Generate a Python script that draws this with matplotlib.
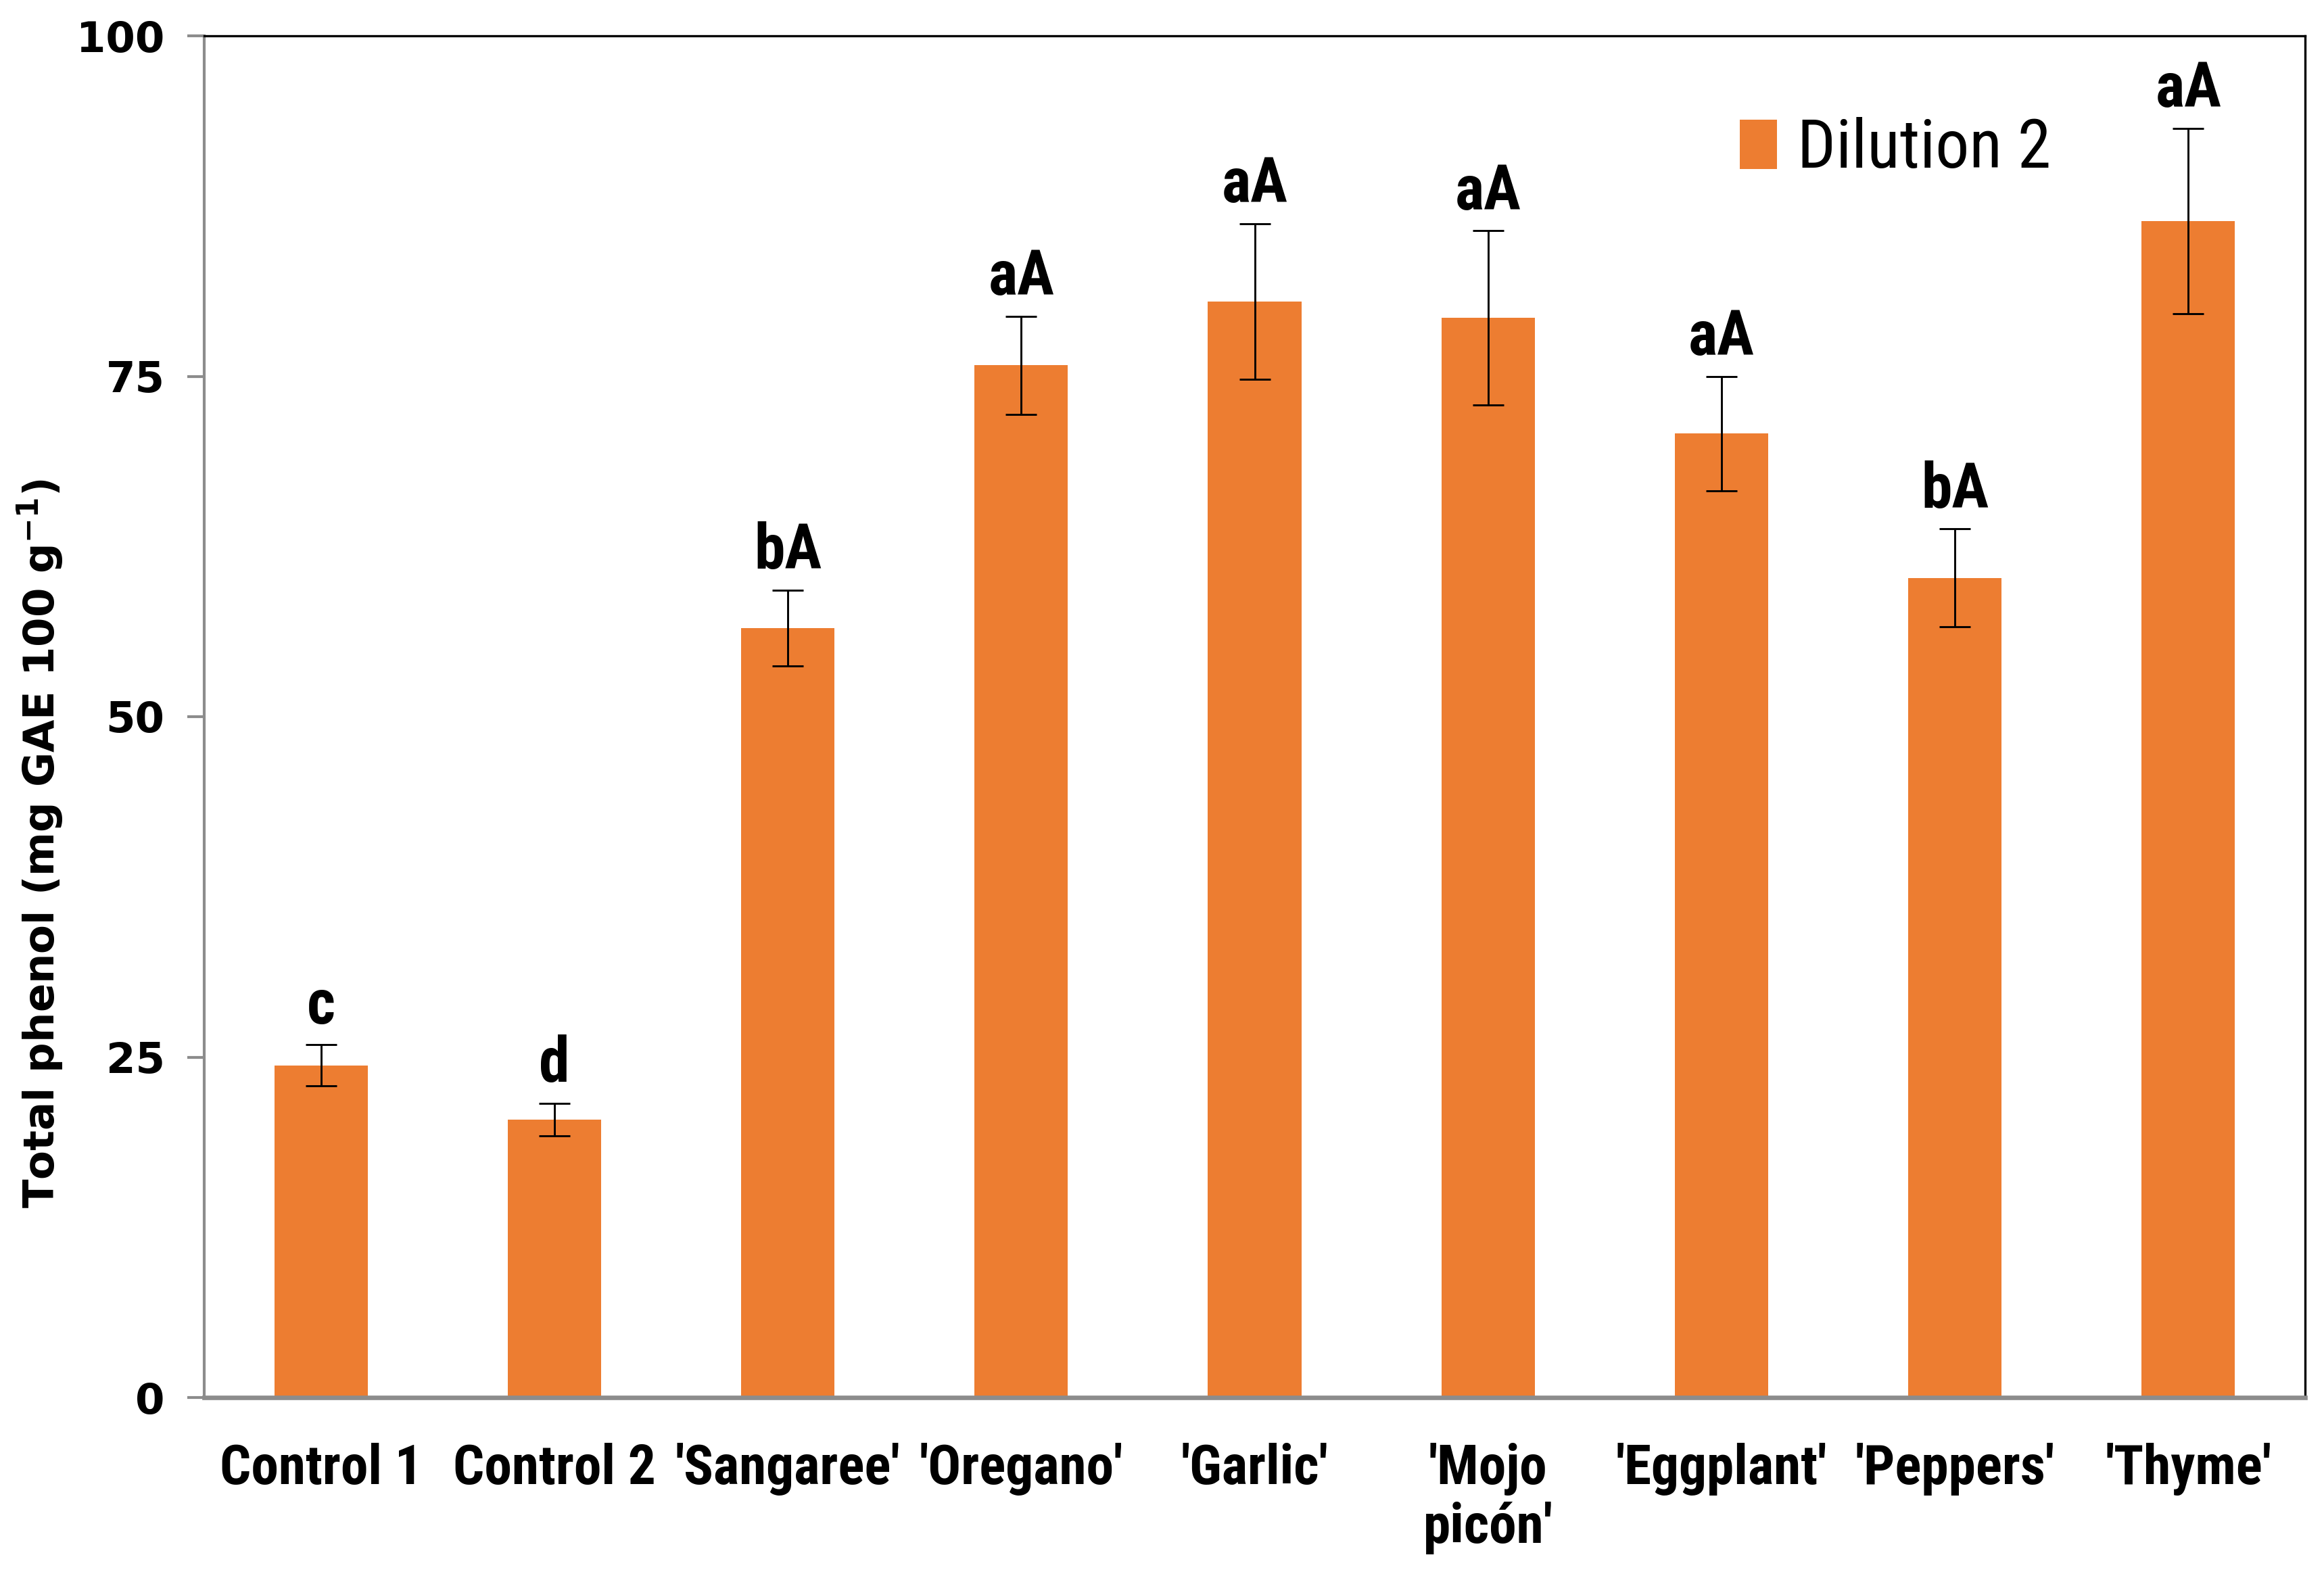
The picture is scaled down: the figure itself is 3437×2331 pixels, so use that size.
#!/usr/bin/env python3

import matplotlib
matplotlib.use("Agg")
import matplotlib.pyplot as plt
import numpy as np

# data
categories = ["Control 1", "Control 2", "'Sangaree'", "'Oregano'", "'Garlic'",
              "'Mojo\npicón'", "'Eggplant'", "'Peppers'", "'Thyme'"]
values  = [24.4, 20.4, 56.5, 75.8, 80.5, 79.3, 70.8, 60.2, 86.4]
errors  = [1.5, 1.2, 2.8, 3.6, 5.7, 6.4, 4.2, 3.6, 6.8]
letters = ["c", "d", "bA", "aA", "aA", "aA", "aA", "bA", "aA"]
yticks  = [0, 25, 50, 75, 100]

narrow = ["Roboto Condensed", "Roboto", "DejaVu Sans"]
barColor = "#ED7D31"

fig = plt.figure(figsize=(3437/300, 2331/300), dpi=300)
ax = fig.add_axes([302/3437, 1 - 2067/2331, (3409-302)/3437, (2067-53)/2331])

x = np.arange(len(categories))
ax.bar(x, values, width=0.4, color=barColor, label="Dilution 2", zorder=2)
ax.errorbar(x, values, yerr=errors, fmt="none", ecolor="black",
            elinewidth=0.7, capsize=5.5, capthick=0.7, zorder=3)

for xi, v, e, lab in zip(x, values, errors, letters):
    ax.annotate(lab, (xi, v + e), xytext=(0, 3), textcoords="offset points",
                ha="center", va="bottom", fontsize=22, fontweight="bold",
                family=narrow)

ax.set_xlim(-0.5, len(categories) - 0.5)
ax.set_ylim(0, 100)
ax.set_yticks(yticks)
ax.set_yticklabels([str(t) for t in yticks], fontsize=15, fontweight="bold",
                   family="DejaVu Sans")
ax.set_xticks(x)
ax.set_xticklabels(categories, fontsize=19.5, fontweight="bold", family=narrow,
                   linespacing=1.15)

ax.tick_params(axis="x", length=0, pad=16)
ax.tick_params(axis="y", length=6, width=1.0, color="#8c8c8c", pad=8)

ax.spines["left"].set_color("#8c8c8c")
ax.spines["left"].set_linewidth(1.0)
ax.spines["bottom"].set_color("#8c8c8c")
ax.spines["bottom"].set_linewidth(1.6)
ax.spines["top"].set_color("black")
ax.spines["top"].set_linewidth(0.8)
ax.spines["right"].set_color("black")
ax.spines["right"].set_linewidth(0.8)

ax.set_ylabel("Total phenol (mg GAE 100 g$^{\\mathbf{-1}}$)", fontsize=15,
              fontweight="bold", family="DejaVu Sans")
ax.yaxis.set_label_coords(-0.066, 0.407)

leg = ax.legend(loc="upper left", bbox_to_anchor=(0.702, 0.985), frameon=False,
                prop={"family": narrow, "size": 24}, handlelength=0.55,
                handleheight=0.75, handletextpad=0.3)

fig.savefig("out.png", dpi=300)
